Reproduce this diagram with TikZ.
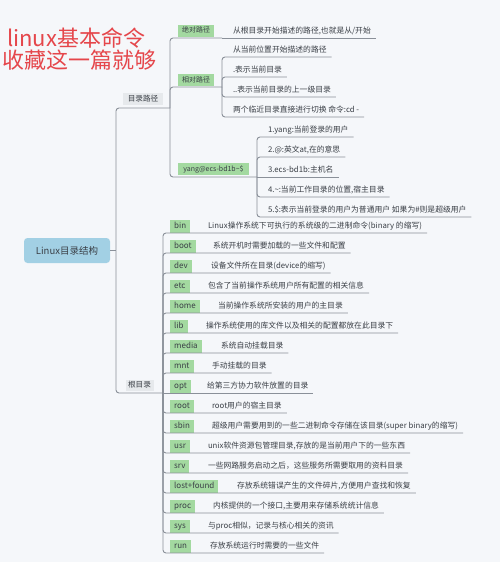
\documentclass[tikz,border=0pt]{standalone}
\usepackage{fontspec}
\setmainfont{Noto Sans CJK SC}
\definecolor{bgc}{HTML}{F5F7FA}
\definecolor{linec}{HTML}{8A9099}
\definecolor{txt}{HTML}{3A3F46}
\definecolor{tagg}{HTML}{A3D9A0}
\definecolor{greyb}{HTML}{E6E9EC}
\definecolor{rootb}{HTML}{A2D0E4}
\definecolor{titler}{HTML}{E5464B}
\begin{document}
\begin{tikzpicture}[x=1pt,y=-1pt,
  conn/.style={draw=linec, line width=0.9pt, rounded corners=3pt},
  tagbox/.style={fill=tagg, text=txt, font=\fontsize{8}{9}\selectfont, inner xsep=4pt, inner ysep=0pt,
    minimum height=12.5pt, anchor=south west, text height=6pt, text depth=1.6pt},
  desc/.style={text=txt, font=\fontsize{7.8}{9}\selectfont, inner sep=0pt, outer xsep=5pt,
    outer ysep=2.6pt, anchor=south west, text height=6pt, text depth=1.5pt},
  lvlone/.style={fill=greyb, text=txt, font=\fontsize{7.6}{9}\selectfont, inner sep=0pt,
    minimum height=12pt, anchor=south west, text height=6pt, text depth=1.5pt},
  lvltwo/.style={fill=tagg, text=txt, font=\fontsize{7}{8}\selectfont, inner sep=0pt,
    minimum height=12pt, anchor=south west, outer xsep=8pt, text height=5.6pt, text depth=1.4pt},
  titlestyle/.style={text=titler, font=\fontsize{22}{24}\selectfont, inner sep=0pt, anchor=base west}
]
\fill[bgc] (0,0) rectangle (500,562);
\useasboundingbox (0,0) rectangle (500,562);

% title
\node[titlestyle] (title1) at (7,46) {linux基本命令};
\node[titlestyle] (title2) at (2,68) {收藏这一篇就够};

% root
\node[fill=rootb, text=txt, rounded corners=3.5pt, minimum width=86pt, minimum height=25pt,
  inner sep=0pt, font=\fontsize{9.5}{11}\selectfont] (root) at (67,250.5) {Linux目录结构};
\coordinate (j0) at (116,250.5);

% level 1
\node[lvlone, outer xsep=7pt, outer ysep=3pt, minimum width=40pt] (mulu) at (116,108) {目录路径};
\node[lvlone, outer xsep=9.5pt, outer ysep=2pt, minimum width=28pt, minimum height=11pt] (genmu) at (116,393) {根目录};

% level 2
\node[lvltwo, outer ysep=1.5pt, minimum width=36pt] (juedui) at (170,38) {绝对路径};
\node[lvltwo, outer ysep=1pt, minimum width=36pt] (xiangdui) at (170,87) {相对路径};
\node[lvltwo, outer ysep=2pt, minimum width=71pt] (yang) at (170,177) {yang@ecs-bd1b\textasciitilde\$};

% leaves of 目录路径
\node[desc] (jd1) at (228,38) {从根目录开始描述的路径,也就是从/开始};
\node[desc] (xd1) at (228,57) {从当前位置开始描述的路径};
\node[desc] (xd2) at (228,77) {.表示当前目录};
\node[desc] (xd3) at (228,97) {..表示当前目录的上一级目录};
\node[desc] (xd4) at (228,117) {两个临近目录直接进行切换 命令:cd -};
\node[desc] (y1) at (263,137) {1.yang:当前登录的用户};
\node[desc] (y2) at (263,157) {2.@:英文at,在的意思};
\node[desc] (y3) at (263,177) {3.ecs-bd1b:主机名};
\node[desc] (y4) at (263,197) {4.\textasciitilde:当前工作目录的位置,宿主目录};
\node[desc] (y5) at (263,217) {5.\$:表示当前登录的用户为普通用户 如果为\#则是超级用户};

% leaves of 根目录
\foreach \tg/\sx/\dt [count=\i from 0] in {
  bin/208/{Linux操作系统下可执行的系统级的二进制命令(binary 的缩写)},
  boot/213/{系统开机时需要加载的一些文件和配置},
  dev/211/{设备文件所在目录(device的缩写)},
  etc/208/{包含了当前操作系统用户所有配置的相关信息},
  home/218/{当前操作系统所安装的用户的主目录},
  lib/206/{操作系统使用的库文件以及相关的配置都放在此目录下},
  media/221/{系统自动挂载目录},
  mnt/212/{手动挂载的目录},
  opt/207/{给第三方协力软件放置的目录},
  root/212/{root用户的宿主目录},
  sbin/212/{超级用户需要用到的一些二进制命令存储在该目录(super binary的缩写)},
  usr/208/{unix软件资源包管理目录,存放的是当前用户下的一些东西},
  srv/208/{一些网路服务启动之后，这些服务所需要取用的资料目录},
  lost+found/237/{存放系统错误产生的文件碎片,方便用户查找和恢复},
  proc/213/{内核提供的一个接口,主要用来存储系统统计信息},
  sys/208/{与proc相似，记录与核心相关的资讯},
  run/210/{存放系统运行时需要的一些文件}} {
  \pgfmathsetmacro{\ly}{233+20*\i}
  \node[tagbox] (rt\i) at (170,\ly) {\tg};
  \node[desc] (rd\i) at (\sx-5,\ly) {\dt};
}

% connectors
\draw[conn] (root.east) -- (j0);
\draw[conn] (j0) |- (mulu.south east);
\draw[conn] (j0) |- (genmu.south east);
\draw[conn] (mulu.south east) |- (juedui.south east);
\draw[conn] (mulu.south east) |- (xiangdui.south east);
\draw[conn] (mulu.south east) |- (yang.south east);
\draw[conn] (juedui.south east) -- (jd1.south east);
\foreach \k in {xd1,xd2,xd3,xd4} \draw[conn] (xiangdui.south east) |- (\k.south east);
\foreach \k in {y1,y2,y4,y5} \draw[conn] (yang.south east) |- (\k.south east);
\draw[conn] (yang.south east) -- (y3.south east);
\foreach \i in {0,...,7,9,10,...,16} \draw[conn] (genmu.south east) |- (rd\i.south east);
\draw[conn] (genmu.south east) -- (rd8.south east);
\end{tikzpicture}
\end{document}
